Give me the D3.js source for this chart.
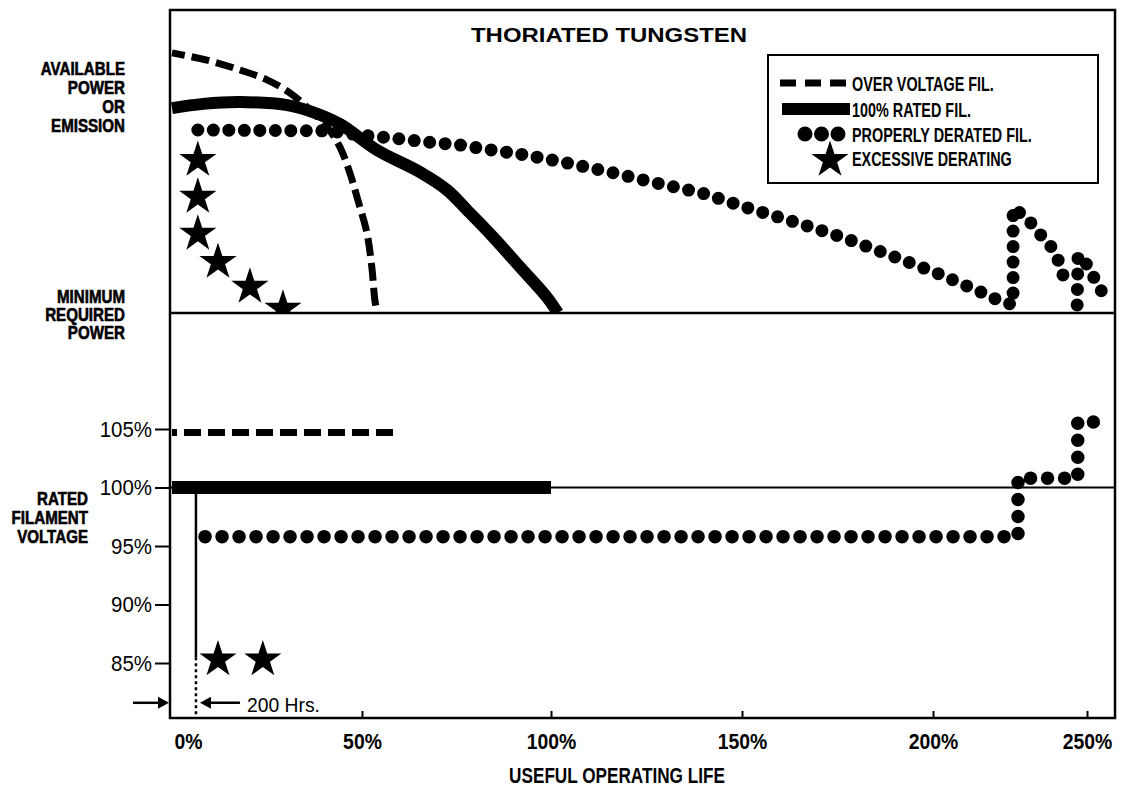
<!DOCTYPE html>
<html><head><meta charset="utf-8">
<script src="https://cdn.jsdelivr.net/npm/d3@7"></script>
<style>
body{margin:0;background:#fff}
svg{display:block}
</style>
</head><body>
<svg id="chart" width="1121" height="787"></svg>
<script>
// ---------- data ----------
const lifeTicks = [0, 50, 100, 150, 200, 250];
const lifeTickLabels = ["0%", "50%", "100%", "150%", "200%", "250%"];
const voltTicks = [85, 90, 95, 100, 105];
const voltTickLabels = ["85%", "90%", "95%", "100%", "105%"];

// upper panel: available power / emission (0 = minimum required power)
const overVoltLife  = [0, 9.2, 17.9, 25, 31.1, 36.3, 40.8, 44.2, 46.8, 48.9, 51.3, 52.6, 53.4, 54];
const overVoltPower = [86.7, 84.3, 81, 77.7, 73.3, 67.7, 62, 55.3, 46.7, 37.7, 26.7, 15.3, 4.3, 0];

const ratedLife  = [0, 8.2, 17.9, 30.3, 36.3, 44.2, 54, 65.3, 72.5, 77.8, 84.7, 91.8, 98.9, 101.8];
const ratedPower = [68.3, 69.7, 70.3, 69.3, 67.3, 63, 54.3, 47, 41, 34.3, 25.3, 15.3, 5.3, 0];

const deratedLifeA  = [6.8, 41.6, 49.5, 58.2, 67.2, 75.9, 84.4, 93.1, 103.1, 115.4, 127.7, 139.5, 151.6, 163.9, 176.2, 188.7, 201.3, 216.2, 221.1, 226, 226, 230.5, 234.1, 238, 240.6, 242.2, 245.5];
const deratedPowerA = [61, 60.7, 59.3, 58.3, 57, 56, 54.3, 52.7, 50.3, 47, 43.3, 40, 35, 30.3, 25.3, 19.3, 13.3, 6.7, 4.3, 2.7, 35, 31.7, 27, 22.7, 17.7, 12.7, 13.3];
const deratedLifeB  = [246.8, 247.1, 251, 253.2, 256.5];
const deratedPowerB = [2.7, 19.3, 15, 9.3, 5];

const excessLife  = [6.8, 6.8, 6.8, 12.1, 20.5, 29.2];
const excessPower = [51, 38.7, 26.4, 17, 8.7, 1.4];

// lower panel: filament voltage (% of rated)
const overVoltVLife = [0, 59.3];
const overVoltV     = [104.7, 104.7];
const ratedVLife = [0, 100];
const ratedV     = [100, 100];
const deratedVLife = [8.7, 227.6, 227.6, 247, 247, 256.5];
const deratedV     = [95.8, 95.8, 100.8, 100.8, 105.6, 105.6];
const excessVLife = [12.1, 23.9];
const excessV     = [85.3, 85.3];
const hoursMarkLife = 6.3;   // 200 Hrs.

const title = "THORIATED TUNGSTEN";
const xTitle = "USEFUL OPERATING LIFE";
const powerLabel = ["AVAILABLE", "POWER", "OR", "EMISSION"];
const minLabel = ["MINIMUM", "REQUIRED", "POWER"];
const voltLabel = ["RATED", "FILAMENT", "VOLTAGE"];
const legendLabels = ["OVER VOLTAGE FIL.", "100% RATED FIL.", "PROPERLY DERATED FIL.", "EXCESSIVE DERATING"];

// ---------- layout ----------
const L = 170, R = 1115, T = 10, MID = 313, B = 718;
const SANS = "'Liberation Sans', Arial, Helvetica, sans-serif";

const svg = d3.select("#chart");

// condensed look: squeeze glyphs horizontally
function condense(sel, f) {
  sel.each(function () {
    const w = this.getComputedTextLength();
    d3.select(this).attr("textLength", w * f).attr("lengthAdjust", "spacingAndGlyphs");
  });
}

const x = d3.scaleLinear().domain(lifeTicks).range([172, 362, 551, 742, 933, 1087]);
const yP = d3.scaleLinear().domain([0, 100]).range([MID, 13]);
const yV = d3.scaleLinear().domain([80.3, 115]).range([B, 312]);

const zip = (a, b) => a.map((d, i) => [d, b[i]]);

const defs = svg.append("defs");
defs.append("clipPath").attr("id", "clipTop").append("rect")
  .attr("x", L).attr("y", T).attr("width", R - L).attr("height", MID - T);
defs.append("clipPath").attr("id", "clipBot").append("rect")
  .attr("x", L).attr("y", MID).attr("width", R - L).attr("height", B - MID);

const lineP = d3.line().x(d => x(d[0])).y(d => yP(d[1])).curve(d3.curveCatmullRom.alpha(0.5));
const lineLin = d3.line().x(d => x(d[0])).y(d => yP(d[1]));
const lineV = d3.line().x(d => x(d[0])).y(d => yV(d[1]));
const star = d3.symbol().type(d3.symbolStar).size(430);

// ---------- upper panel ----------
const gT = svg.append("g").attr("clip-path", "url(#clipTop)");

gT.append("path").attr("d", lineP(zip(ratedLife, ratedPower)))
  .attr("fill", "none").attr("stroke", "#000").attr("stroke-width", 12).attr("stroke-linecap", "butt");

gT.append("path").attr("d", lineP(zip(overVoltLife, overVoltPower)))
  .attr("fill", "none").attr("stroke", "#000").attr("stroke-width", 7)
  .attr("stroke-dasharray", "18,7").attr("stroke-dashoffset", 5);

[zip(deratedLifeA, deratedPowerA), zip(deratedLifeB, deratedPowerB)].forEach(seg => {
  gT.append("path").attr("d", lineLin(seg))
    .attr("fill", "none").attr("stroke", "#000").attr("stroke-width", 13)
    .attr("stroke-linecap", "round").attr("stroke-linejoin", "round")
    .attr("stroke-dasharray", "0,15.5");
});

gT.selectAll("path.starT").data(zip(excessLife, excessPower)).join("path")
  .attr("class", "starT").attr("d", star)
  .attr("transform", d => `translate(${x(d[0])},${yP(d[1])})`).attr("fill", "#000");

// ---------- lower panel ----------
const gB = svg.append("g").attr("clip-path", "url(#clipBot)");

gB.append("line").attr("x1", L).attr("x2", R).attr("y1", yV(100)).attr("y2", yV(100))
  .attr("stroke", "#000").attr("stroke-width", 2);

gB.append("path").attr("d", lineV(zip(overVoltVLife, overVoltV)))
  .attr("fill", "none").attr("stroke", "#000").attr("stroke-width", 7)
  .attr("stroke-dasharray", "17,7").attr("stroke-dashoffset", 12);

gB.append("path").attr("d", lineV(zip(ratedVLife, ratedV)))
  .attr("fill", "none").attr("stroke", "#000").attr("stroke-width", 13);

// 200 hours marker
gB.append("line").attr("x1", x(hoursMarkLife)).attr("x2", x(hoursMarkLife))
  .attr("y1", yV(100)).attr("y2", yV(85.5)).attr("stroke", "#000").attr("stroke-width", 2.5);
gB.append("line").attr("x1", x(hoursMarkLife)).attr("x2", x(hoursMarkLife))
  .attr("y1", yV(85.5)).attr("y2", B).attr("stroke", "#000").attr("stroke-width", 2.5)
  .attr("stroke-dasharray", "3,3");

gB.append("path").attr("d", lineV(zip(deratedVLife, deratedV)))
  .attr("fill", "none").attr("stroke", "#000").attr("stroke-width", 13.5)
  .attr("stroke-linecap", "round").attr("stroke-linejoin", "round")
  .attr("stroke-dasharray", "0,17");

gB.selectAll("path.starB").data(zip(excessVLife, excessV)).join("path")
  .attr("class", "starB").attr("d", star)
  .attr("transform", d => `translate(${x(d[0])},${yV(d[1])})`).attr("fill", "#000");

// ---------- frame ----------
svg.append("rect").attr("x", L).attr("y", T).attr("width", R - L).attr("height", B - T)
  .attr("fill", "none").attr("stroke", "#000").attr("stroke-width", 2.5);
svg.append("line").attr("x1", L).attr("x2", R).attr("y1", MID).attr("y2", MID)
  .attr("stroke", "#000").attr("stroke-width", 2.5);

// ---------- axes ----------
const axV = svg.append("g").attr("transform", `translate(${L},0)`)
  .call(d3.axisLeft(yV).tickValues(voltTicks).tickSize(15).tickPadding(3)
    .tickFormat((d, i) => voltTickLabels[i]));
axV.select(".domain").remove();
axV.selectAll("line").attr("stroke-width", 2);
axV.selectAll("text").attr("font-family", SANS).attr("font-size", 22).attr("fill", "#000");
condense(axV.selectAll("text"), 0.93);

const axX = svg.append("g").attr("transform", `translate(0,${B})`)
  .call(d3.axisBottom(x).tickValues(lifeTicks).tickSizeInner(-7).tickSizeOuter(0).tickPadding(15)
    .tickFormat((d, i) => lifeTickLabels[i]));
axX.select(".domain").remove();
axX.selectAll("line").attr("stroke-width", 2);
axX.selectAll("text").attr("font-family", SANS).attr("font-size", 22)
  .attr("font-weight", "bold").attr("fill", "#000");
axX.selectAll(".tick").filter(d => d === 0).select("line").remove();
axX.selectAll(".tick").filter(d => d === 0).select("text").attr("text-anchor", "start").attr("x", 2);
condense(axX.selectAll("text"), 0.88);

// ---------- annotations ----------
const arrowY = yV(81.6);
svg.append("line").attr("x1", 133).attr("x2", x(0) - 10).attr("y1", arrowY).attr("y2", arrowY)
  .attr("stroke", "#000").attr("stroke-width", 2.5);
svg.append("path").attr("d", `M${x(0) - 3},${arrowY} l-11,-6 l0,12 z`).attr("fill", "#000");
const hx = x(hoursMarkLife);
svg.append("line").attr("x1", hx + 44).attr("x2", hx + 12).attr("y1", arrowY).attr("y2", arrowY)
  .attr("stroke", "#000").attr("stroke-width", 2.5);
svg.append("path").attr("d", `M${hx + 4},${arrowY} l11,-6 l0,12 z`).attr("fill", "#000");
const hrs = svg.append("text").attr("x", hx + 51).attr("y", arrowY + 9).text("200 Hrs.")
  .attr("font-family", SANS).attr("font-size", 21).attr("fill", "#000");
condense(hrs, 0.92);

// titles
svg.append("text").attr("x", 609).attr("y", 42).attr("text-anchor", "middle").text(title)
  .attr("font-family", SANS).attr("font-size", 21).attr("font-weight", "bold")
  .attr("textLength", 276).attr("lengthAdjust", "spacingAndGlyphs");
const xt = svg.append("text").attr("x", 617).attr("y", 783).attr("text-anchor", "middle").text(xTitle)
  .attr("font-family", SANS).attr("font-size", 22).attr("font-weight", "bold");
condense(xt, 0.78);

// side labels
function sideLabel(lines, xr, y0, dy) {
  const t = svg.append("g").selectAll("text").data(lines).join("text")
    .attr("x", xr).attr("y", (d, i) => y0 + i * dy).attr("text-anchor", "end").text(d => d)
    .attr("font-family", SANS).attr("font-size", 18).attr("font-weight", "bold")
    .attr("fill", "#000").attr("stroke", "#000").attr("stroke-width", 0.6);
  condense(t, 0.84);
}
sideLabel(powerLabel, 125, 75, 19);
sideLabel(minLabel, 125, 303, 18);
sideLabel(voltLabel, 88, 505, 19);

// ---------- legend ----------
const lg = svg.append("g");
lg.append("rect").attr("x", 768).attr("y", 55).attr("width", 330).attr("height", 128)
  .attr("fill", "#fff").attr("stroke", "#000").attr("stroke-width", 2);
const rowY = [83, 109, 134, 158];
lg.append("line").attr("x1", 780).attr("x2", 846).attr("y1", rowY[0]).attr("y2", rowY[0])
  .attr("stroke", "#000").attr("stroke-width", 7).attr("stroke-dasharray", "16,9");
lg.append("line").attr("x1", 782).attr("x2", 850).attr("y1", rowY[1]).attr("y2", rowY[1])
  .attr("stroke", "#000").attr("stroke-width", 12);
lg.append("line").attr("x1", 805).attr("x2", 839).attr("y1", rowY[2]).attr("y2", rowY[2])
  .attr("stroke", "#000").attr("stroke-width", 15).attr("stroke-linecap", "round")
  .attr("stroke-dasharray", "0,16.5");
lg.append("path").attr("d", star).attr("transform", `translate(830,${rowY[3] + 2})`).attr("fill", "#000");
const lt = lg.selectAll("text").data(legendLabels).join("text")
  .attr("x", 852).attr("y", (d, i) => rowY[i] + 8).text(d => d)
  .attr("font-family", SANS).attr("font-size", 20).attr("font-weight", "bold").attr("fill", "#000");
condense(lt, 0.72);
</script>
</body></html>
